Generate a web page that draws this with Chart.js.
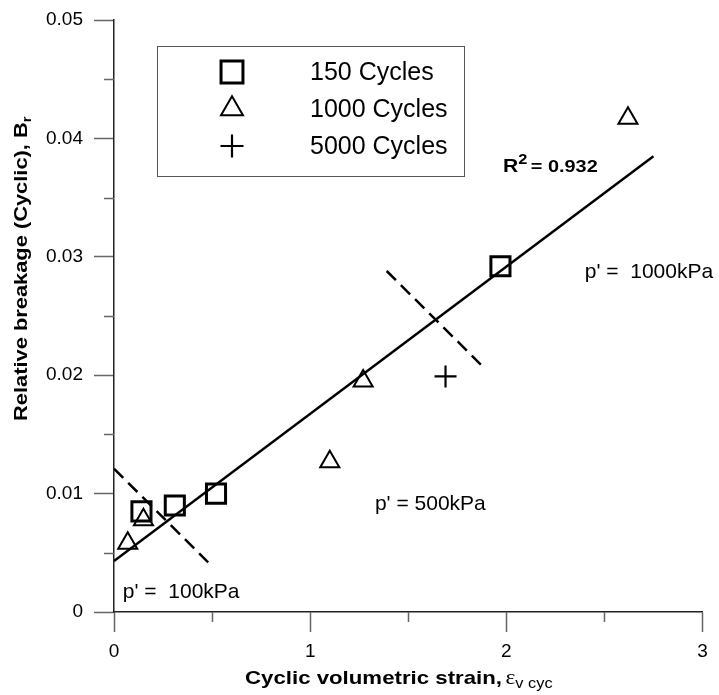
<!DOCTYPE html>
<html>
<head>
<meta charset="utf-8">
<title>Relative breakage vs cyclic volumetric strain</title>
<script src="https://cdn.jsdelivr.net/npm/chart.js@4.4.1/dist/chart.umd.min.js"></script>
<style>
    html, body { margin: 0; padding: 0; background: #fff; }
    canvas { display: block; }
</style>
</head>
<body>
<canvas id="chart" width="719" height="695"></canvas>
<script>
// Values
const cycles150X = [0.14, 0.31, 0.52, 1.97];
const cycles150Y = [0.0085, 0.0090, 0.0100, 0.0292];
const cycles1000X = [0.07, 0.15, 1.10, 1.27, 2.62];
const cycles1000Y = [0.0058, 0.0078, 0.0127, 0.0195, 0.0417];
const cycles5000X = [1.69];
const cycles5000Y = [0.0199];

// Fitted line (R^2 = 0.932), end points
const fitX = [0, 2.75];
const fitY = [0.0043, 0.0385];

// Dashed boundaries between the pressure zones
const bound100X = [0, 0.48];
const bound100Y = [0.0121, 0.0042];
const bound1000X = [1.39, 1.87];
const bound1000Y = [0.0288, 0.0209];

const xTickLabels = ['0', '1', '2', '3'];
const yTickLabels = ['0', '0.01', '0.02', '0.03', '0.04', '0.05'];
const xMinorTicks = [0.5, 1.5, 2.5];
const yMinorTicks = [0.005, 0.015, 0.025, 0.035, 0.045];

const legendLabels = ['150 Cycles', '1000 Cycles', '5000 Cycles'];

const SANS = "'Liberation Sans', Arial, sans-serif";
const TICK_COLOR = '#666';

function toPoints(xs, ys) {
    return xs.map((x, i) => ({ x: x, y: ys[i] }));
}

// draw a run of text pieces (with sub/superscripts), stretched horizontally
function drawRun(ctx, parts, stretch) {
    ctx.save();
    ctx.scale(stretch, 1);
    let x = 0;
    parts.forEach(p => {
        ctx.font = p.font;
        x += p.gap || 0;
        ctx.fillText(p.text, x, p.dy || 0);
        x += ctx.measureText(p.text).width;
    });
    ctx.restore();
}

function drawSymbol(ctx, style, r, x, y, lw) {
    ctx.save();
    ctx.strokeStyle = '#000';
    ctx.lineWidth = lw;
    if (Chart.helpers && Chart.helpers.drawPoint) {
        ctx.fillStyle = 'rgba(0,0,0,0)';
        Chart.helpers.drawPoint(ctx, { pointStyle: style, radius: r, borderWidth: lw }, x, y);
    } else {
        ctx.beginPath();
        if (style === 'rect') {
            const s = r * Math.SQRT1_2;
            ctx.rect(x - s, y - s, 2 * s, 2 * s);
        } else if (style === 'triangle') {
            ctx.moveTo(x, y - r);
            ctx.lineTo(x + r * 0.866, y + r / 2);
            ctx.lineTo(x - r * 0.866, y + r / 2);
            ctx.closePath();
        } else {
            ctx.moveTo(x - r, y); ctx.lineTo(x + r, y);
            ctx.moveTo(x, y - r); ctx.lineTo(x, y + r);
        }
        ctx.stroke();
    }
    ctx.restore();
}

// Short minor ticks between the labelled ones
const minorTicksPlugin = {
    id: 'minorTicks',
    afterDraw(chart) {
        const ctx = chart.ctx;
        const xs = chart.scales.x, ys = chart.scales.y;
        const area = chart.chartArea;
        ctx.save();
        ctx.strokeStyle = TICK_COLOR;
        ctx.lineWidth = 1.5;
        ctx.beginPath();
        xMinorTicks.forEach(v => {
            const px = Math.round(xs.getPixelForValue(v)) + 0.5;
            ctx.moveTo(px, area.bottom);
            ctx.lineTo(px, area.bottom + 10);
        });
        yMinorTicks.forEach(v => {
            const py = Math.round(ys.getPixelForValue(v)) + 0.5;
            ctx.moveTo(area.left, py);
            ctx.lineTo(area.left - 10, py);
        });
        ctx.stroke();
        ctx.restore();
    }
};

// Legend box, notes and axis titles
const notesPlugin = {
    id: 'notes',
    afterDraw(chart) {
        const ctx = chart.ctx;
        const xs = chart.scales.x, ys = chart.scales.y;
        ctx.save();
        ctx.fillStyle = '#000';

        // legend
        ctx.strokeStyle = '#555';
        ctx.lineWidth = 1;
        ctx.strokeRect(157.5, 46.5, 307, 130);
        const styles = [['rect', 15.5, 3], ['triangle', 12.7, 2], ['cross', 11.5, 2.2]];
        legendLabels.forEach((label, i) => {
            const cy = 72 + i * 37;
            drawSymbol(ctx, styles[i][0], styles[i][1], 232, cy, styles[i][2]);
            ctx.font = '25px ' + SANS;
            ctx.textAlign = 'left';
            ctx.textBaseline = 'middle';
            ctx.fillText(label, 310, cy + 1);
        });

        // pressure zone notes
        ctx.font = '21px ' + SANS;
        ctx.textBaseline = 'middle';
        ctx.fillText("p' =  1000kPa", xs.getPixelForValue(2.40), ys.getPixelForValue(0.0287));
        ctx.fillText("p' = 500kPa", xs.getPixelForValue(1.33), ys.getPixelForValue(0.0091));
        ctx.fillText("p' =  100kPa", xs.getPixelForValue(0.045), ys.getPixelForValue(0.0017));

        // R squared
        ctx.textBaseline = 'alphabetic';
        ctx.save();
        ctx.translate(xs.getPixelForValue(1.983), ys.getPixelForValue(0.0372));
        drawRun(ctx, [
            { text: 'R', font: 'bold 18px ' + SANS },
            { text: '2', font: 'bold 14px ' + SANS, dy: -8 },
            { text: '= 0.932', font: 'bold 17px ' + SANS, gap: 3 }
        ], 1.17);
        ctx.restore();

        // x axis title
        ctx.save();
        ctx.translate(245, 684);
        drawRun(ctx, [
            { text: 'Cyclic volumetric strain,', font: 'bold 19px ' + SANS },
            { text: '\u03b5', font: "20px 'Liberation Serif', serif", gap: 3 },
            { text: 'v cyc', font: '14px ' + SANS, dy: 4 }
        ], 1.17);
        ctx.restore();

        // y axis title
        ctx.save();
        ctx.translate(27, 421);
        ctx.rotate(-Math.PI / 2);
        drawRun(ctx, [
            { text: 'Relative breakage (Cyclic), B', font: 'bold 19px ' + SANS },
            { text: 'r', font: 'bold 13px ' + SANS, dy: 4 }
        ], 1.15);
        ctx.restore();

        ctx.restore();
    }
};

const ctx = document.getElementById('chart').getContext('2d');
new Chart(ctx, {
    type: 'scatter',
    data: {
        datasets: [
            {
                label: legendLabels[0],
                data: toPoints(cycles150X, cycles150Y),
                pointStyle: 'rect',
                pointRadius: 13.5,
                pointBorderWidth: 3,
                pointBorderColor: '#000',
                pointBackgroundColor: 'rgba(0,0,0,0)'
            },
            {
                label: legendLabels[1],
                data: toPoints(cycles1000X, cycles1000Y),
                pointStyle: 'triangle',
                pointRadius: 11,
                pointBorderWidth: 2,
                pointBorderColor: '#000',
                pointBackgroundColor: 'rgba(0,0,0,0)'
            },
            {
                label: legendLabels[2],
                data: toPoints(cycles5000X, cycles5000Y),
                pointStyle: 'cross',
                pointRadius: 11,
                pointBorderWidth: 2.2,
                pointBorderColor: '#000'
            },
            {
                label: 'fit',
                data: toPoints(fitX, fitY),
                showLine: true,
                borderColor: '#000',
                borderWidth: 2.5,
                pointRadius: 0
            },
            {
                label: 'p100',
                data: toPoints(bound100X, bound100Y),
                showLine: true,
                borderColor: '#000',
                borderWidth: 2.5,
                borderDash: [13, 7],
                pointRadius: 0
            },
            {
                label: 'p1000',
                data: toPoints(bound1000X, bound1000Y),
                showLine: true,
                borderColor: '#000',
                borderWidth: 2.5,
                borderDash: [13, 7],
                pointRadius: 0
            }
        ]
    },
    options: {
        responsive: false,
        animation: false,
        layout: { padding: { top: 20, right: 12, left: 0, bottom: 0 } },
        plugins: {
            legend: { display: false },
            tooltip: { enabled: false },
            title: { display: false }
        },
        scales: {
            x: {
                type: 'linear',
                min: 0,
                max: 3,
                afterFit(scale) {
                    scale.height = 83;
                    scale.paddingLeft = 0;
                    scale.paddingRight = 0;
                },
                border: { color: '#222', width: 1.5 },
                grid: { drawOnChartArea: false, tickLength: 20, tickColor: TICK_COLOR, tickWidth: 1.5 },
                ticks: {
                    stepSize: 1,
                    padding: 8,
                    color: '#000',
                    font: { family: SANS, size: 19 },
                    maxRotation: 0,
                    callback: (v, i) => xTickLabels[i]
                }
            },
            y: {
                type: 'linear',
                min: 0,
                max: 0.05,
                afterFit(scale) {
                    scale.width = 114;
                    scale.paddingTop = 0;
                    scale.paddingBottom = 0;
                },
                border: { color: '#222', width: 1.5 },
                grid: { drawOnChartArea: false, tickLength: 20, tickColor: TICK_COLOR, tickWidth: 1.5 },
                ticks: {
                    stepSize: 0.01,
                    padding: 11,
                    color: '#000',
                    font: { family: SANS, size: 19 },
                    callback: (v, i) => yTickLabels[i]
                }
            }
        }
    },
    plugins: [minorTicksPlugin, notesPlugin]
});
</script>
</body>
</html>
